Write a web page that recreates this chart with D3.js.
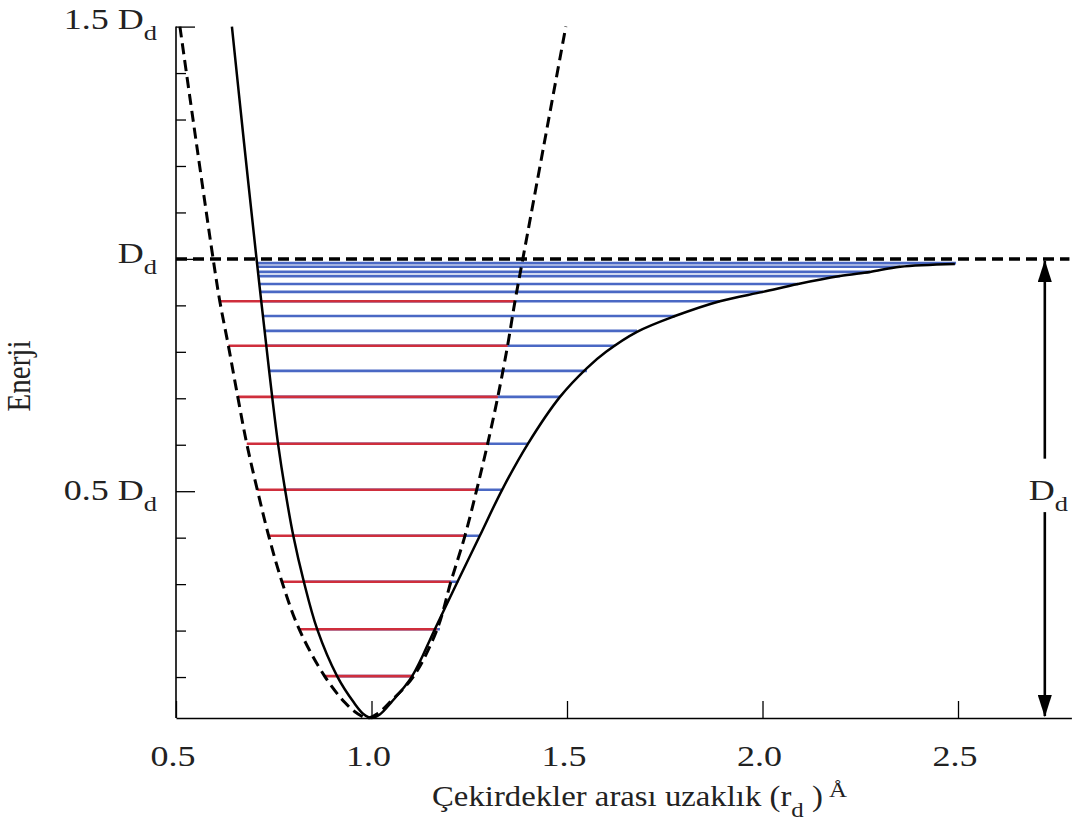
<!DOCTYPE html>
<html>
<head>
<meta charset="utf-8">
<script src="https://cdn.jsdelivr.net/npm/d3@7"></script>
<style>
  html, body { margin: 0; padding: 0; background: #fff; }
  svg { display: block; }
  text { font-family: "Liberation Serif", "Times New Roman", serif; fill: #222; }
</style>
</head>
<body>
<svg id="chart" width="1078" height="836"></svg>
<script>
// ---------- data ----------
const xTicks = [0.5, 1.0, 1.5, 2.0, 2.5];
const xTickLabels = ["0.5", "1.0", "1.5", "2.0", "2.5"];
const yMinorTicks = [0.1, 0.2, 0.3, 0.4, 0.5, 0.6, 0.7, 0.8, 0.9, 1.0, 1.1, 1.2, 1.3, 1.4, 1.5];
const yMajorTicks = [0.5, 1.0, 1.5];
const yMajorLabels = ["0.5 D", "D", "1.5 D"];

// Morse-like potential (solid): [r, E/D]
const morseR = [0.643, 0.674, 0.706, 0.718, 0.731, 0.746, 0.761, 0.779, 0.800, 0.827, 0.861, 0.912, 0.955, 0.980, 1.000,
                1.022, 1.050, 1.104, 1.162, 1.220, 1.277, 1.334, 1.400, 1.482, 1.551, 1.600, 1.679, 1.776,
                1.891, 2.001, 2.091, 2.198, 2.275, 2.352, 2.492];
const morseE = [1.500, 1.250, 1.000, 0.909, 0.813, 0.703, 0.602, 0.503, 0.404, 0.305, 0.203, 0.102, 0.045, 0.020, 0.012,
                0.020, 0.045, 0.102, 0.203, 0.305, 0.404, 0.503, 0.602, 0.703, 0.765, 0.800, 0.843, 0.877,
                0.909, 0.929, 0.946, 0.963, 0.972, 0.983, 0.989];

// Harmonic parabola (dashed)
const harmR = [0.510, 0.552, 0.595, 0.612, 0.634, 0.658, 0.681, 0.708, 0.737, 0.771, 0.815, 0.880, 0.932, 0.963, 0.990,
               1.017, 1.052, 1.108, 1.168, 1.203, 1.239, 1.269, 1.297, 1.323, 1.348, 1.367, 1.387, 1.442, 1.497];
const harmE = [1.500, 1.250, 1.000, 0.909, 0.813, 0.703, 0.602, 0.503, 0.404, 0.305, 0.203, 0.102, 0.045, 0.022, 0.012,
               0.022, 0.050, 0.102, 0.203, 0.305, 0.404, 0.503, 0.602, 0.703, 0.813, 0.909, 1.000, 1.250, 1.500];

// Harmonic levels (red)
const redE     = [0.102, 0.203, 0.305, 0.404, 0.503, 0.602, 0.703, 0.813, 0.909];
const redLeft  = [0.880, 0.815, 0.771, 0.737, 0.708, 0.681, 0.658, 0.634, 0.612];
const redRight = [1.108, 1.168, 1.203, 1.239, 1.269, 1.297, 1.323, 1.348, 1.367];

// Anharmonic levels (blue)
const blueE     = [0.102, 0.203, 0.305, 0.404, 0.503, 0.602, 0.703, 0.759, 0.813, 0.845, 0.877, 0.909,
                   0.929, 0.946, 0.963, 0.972, 0.983, 0.991];
const blueLeft  = [0.912, 0.861, 0.827, 0.800, 0.779, 0.761, 0.746, 0.739, 0.731, 0.727, 0.722, 0.718,
                   0.715, 0.713, 0.711, 0.710, 0.708, 0.707];
const blueRight = [1.104, 1.175, 1.222, 1.277, 1.336, 1.400, 1.482, 1.551, 1.623, 1.679, 1.776, 1.891,
                   2.001, 2.091, 2.198, 2.275, 2.352, 2.495];

const dissociation = 1.0;       // D level
const arrowR = 2.722;           // x position of the D arrow
const arrowLabel = "D";

// ---------- layout ----------
const svg = d3.select("#chart");
const x = d3.scaleLinear().domain([0.5, 2.79]).range([176, 1071.4]);
const y = d3.scaleLinear().domain([0, 1.5]).range([723.5, 26.6]);
const plotBottom = 718;
const stretch = 1.2;
const smooth = d3.curveCatmullRom.alpha(0.5);

// blue levels
svg.append("g").selectAll("line").data(blueE).join("line")
  .attr("x1", (d, i) => x(blueLeft[i])).attr("x2", (d, i) => x(blueRight[i]))
  .attr("y1", d => y(d)).attr("y2", d => y(d))
  .attr("stroke", "#4a68c4").attr("stroke-width", 2.6);

// red levels
svg.append("g").selectAll("line").data(redE).join("line")
  .attr("x1", (d, i) => x(redLeft[i])).attr("x2", (d, i) => x(redRight[i]))
  .attr("y1", d => y(d)).attr("y2", d => y(d))
  .attr("stroke", "#cf2e3c").attr("stroke-width", 2.6);

// harmonic dashed parabola
const harmPts = harmR.map((r, i) => [r, harmE[i]]);
svg.append("path").datum(harmPts)
  .attr("d", d3.line().x(d => x(d[0])).y(d => y(d[1])).curve(smooth))
  .attr("fill", "none").attr("stroke", "#000").attr("stroke-width", 3)
  .attr("stroke-dasharray", "11,6");

// Morse solid curve
const morsePts = morseR.map((r, i) => [r, morseE[i]]);
svg.append("path").datum(morsePts)
  .attr("d", d3.line().x(d => x(d[0])).y(d => y(d[1])).curve(smooth))
  .attr("fill", "none").attr("stroke", "#000").attr("stroke-width", 2.5);

// D dashed line
svg.append("line")
  .attr("x1", x(0.5)).attr("x2", x(2.785))
  .attr("y1", y(dissociation)).attr("y2", y(dissociation))
  .attr("stroke", "#000").attr("stroke-width", 3.5).attr("stroke-dasharray", "11,6");

// ---------- axes ----------
const xAxis = d3.axisBottom(x).tickValues(xTicks)
  .tickFormat((d, i) => xTickLabels[i]).tickSizeInner(-17).tickSizeOuter(0).tickPadding(27);
const gx = svg.append("g").attr("transform", `translate(0,${plotBottom})`).call(xAxis);
gx.select(".domain").attr("stroke", "#000").attr("stroke-width", 1.6);
gx.selectAll(".tick line").attr("stroke", "#000").attr("stroke-width", 1.3);
gx.selectAll(".tick text").attr("font-size", 30).attr("font-family", "Liberation Serif")
  .attr("fill", "#222").attr("transform", `scale(${stretch},1)`).attr("dx", "-0.1em");

const yAxis = d3.axisLeft(y).tickValues(yMinorTicks).tickFormat("")
  .tickSizeInner(-10).tickSizeOuter(0);
const gy = svg.append("g").attr("transform", "translate(176,0)").call(yAxis);
gy.select(".domain").attr("stroke", "#000").attr("stroke-width", 1.6)
  .attr("d", `M0,${plotBottom}V${y(1.5)}`);
gy.selectAll(".tick line").attr("stroke", "#000").attr("stroke-width", 1.3)
  .attr("x2", d => yMajorTicks.includes(d) ? 19 : 10);

// y major labels with subscript d
const labelDy = [9, 4, 2];
yMajorTicks.forEach((v, i) => {
  const g = svg.append("g").attr("transform", `translate(157,${y(v) + labelDy[i]}) scale(${stretch},1)`);
  const t = g.append("text").attr("text-anchor", "end").attr("font-size", 30);
  t.append("tspan").text(yMajorLabels[i]);
  t.append("tspan").attr("font-size", 22).attr("dy", 11).text("d");
});

// y axis title
svg.append("text")
  .attr("transform", "translate(30,376) rotate(-90) scale(1,1.15)")
  .attr("text-anchor", "middle").attr("font-size", 29).text("Enerji");

// x axis title
{
  const g = svg.append("g").attr("transform", `translate(432,806) scale(1.13,1)`);
  const t = g.append("text").attr("font-size", 29);
  t.append("tspan").text("Çekirdekler arası uzaklık (r");
  t.append("tspan").attr("font-size", 22).attr("dy", 11).text("d");
  t.append("tspan").attr("dy", -11).text(" )");
  t.append("tspan").attr("font-size", 22).attr("dy", -9).text(" Å");
}

// ---------- D arrow ----------
const defs = svg.append("defs");
defs.append("marker").attr("id", "ah").attr("viewBox", "0 0 22 14")
  .attr("refX", 21).attr("refY", 7).attr("markerWidth", 22).attr("markerHeight", 14)
  .attr("markerUnits", "userSpaceOnUse").attr("orient", "auto")
  .append("path").attr("d", "M0,0 L22,7 L0,14 Z").attr("fill", "#000");

svg.append("line")
  .attr("x1", x(arrowR)).attr("x2", x(arrowR))
  .attr("y1", y(0.57)).attr("y2", y(dissociation) + 2)
  .attr("stroke", "#000").attr("stroke-width", 2.6).attr("marker-end", "url(#ah)");
svg.append("line")
  .attr("x1", x(arrowR)).attr("x2", x(arrowR))
  .attr("y1", y(0.455)).attr("y2", y(0.016))
  .attr("stroke", "#000").attr("stroke-width", 2.6).attr("marker-end", "url(#ah)");
{
  const g = svg.append("g").attr("transform", `translate(${x(arrowR) - 16},${y(0.48)}) scale(${stretch},1)`);
  const t = g.append("text").attr("font-size", 30);
  t.append("tspan").text(arrowLabel);
  t.append("tspan").attr("font-size", 22).attr("dy", 11).text("d");
}
</script>
</body>
</html>
